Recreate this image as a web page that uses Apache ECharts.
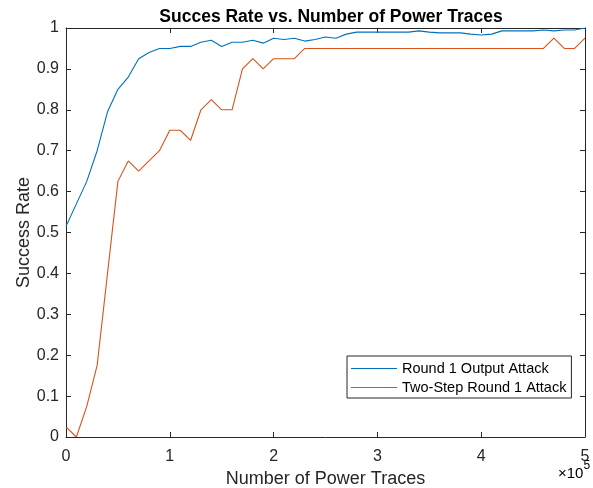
<!DOCTYPE html>
<html>
<head>
<meta charset="utf-8">
<script src="https://cdn.jsdelivr.net/npm/echarts@6/dist/echarts.min.js"></script>
<style>html,body{margin:0;padding:0;background:#fff}#c{width:593px;height:488px}</style>
</head>
<body>
<div id="c"></div>
<script>
const traces = [0,10000,20000,30000,40000,50000,60000,70000,80000,90000,
  100000,110000,120000,130000,140000,150000,160000,170000,180000,190000,
  200000,210000,220000,230000,240000,250000,260000,270000,280000,290000,
  300000,310000,320000,330000,340000,350000,360000,370000,380000,390000,
  400000,410000,420000,430000,440000,450000,460000,470000,480000,490000,500000];
const round1Output = [0.515,0.57,0.625,0.70,0.795,0.85,0.88,0.925,0.94,0.95,
  0.95,0.955,0.955,0.965,0.97,0.955,0.965,0.965,0.97,0.963,
  0.975,0.972,0.975,0.968,0.972,0.978,0.975,0.985,0.99,0.99,
  0.99,0.99,0.99,0.99,0.993,0.99,0.988,0.988,0.988,0.985,
  0.983,0.985,0.993,0.993,0.993,0.993,0.995,0.993,0.995,0.995,1.0];
const twoStep = [0.025,0,0.075,0.175,0.4,0.625,0.675,0.65,0.675,0.70,
  0.75,0.75,0.725,0.80,0.825,0.80,0.80,0.90,0.925,0.90,
  0.925,0.925,0.925,0.95,0.95,0.95,0.95,0.95,0.95,0.95,
  0.95,0.95,0.95,0.95,0.95,0.95,0.95,0.95,0.95,0.95,
  0.95,0.95,0.95,0.95,0.95,0.95,0.95,0.975,0.95,0.95,0.975];
const seriesNames = ['Round 1 Output Attack','Two-Step Round 1 Attack'];
const titleText = 'Succes Rate vs. Number of Power Traces';
const xLabel = 'Number of Power Traces';
const yLabel = 'Success Rate';

const FONT = '"Liberation Sans", Arial, Helvetica, sans-serif';
const AX = '#262626';
const chart = echarts.init(document.getElementById('c'), null, {renderer:'canvas'});
const axisCommon = {
  axisLine:{show:true, onZero:false, lineStyle:{color:AX, width:1}},
  axisTick:{show:true, inside:true, length:5, lineStyle:{color:AX, width:1}},
  splitLine:{show:false}
};
chart.setOption({
  animation:false,
  backgroundColor:'#fff',
  title:{text:titleText, left:326, top:3, textAlign:'center',
    textStyle:{fontFamily:FONT, fontSize:17.5, fontWeight:'bold', color:'#000'}},
  grid:{left:66, right:8, top:28, bottom:51, containLabel:false, outerBoundsMode:'none'},
  xAxis:[
    Object.assign({type:'value', min:0, max:500000, interval:100000, position:'bottom',
      name:xLabel, nameLocation:'middle', nameGap:33, nameMoveOverlap:false,
      nameTextStyle:{fontFamily:FONT, fontSize:18, color:AX},
      axisLabel:{fontFamily:FONT, fontSize:16, color:AX, margin:12, formatter:v=>String(v/100000)}}, axisCommon),
    Object.assign({type:'value', min:0, max:500000, interval:100000, position:'top',
      axisLabel:{show:false}}, axisCommon)
  ],
  yAxis:[
    Object.assign({type:'value', min:0, max:1, interval:0.1, position:'left',
      name:yLabel, nameLocation:'middle', nameGap:33, nameMoveOverlap:false,
      nameTextStyle:{fontFamily:FONT, fontSize:18, color:AX},
      axisLabel:{fontFamily:FONT, fontSize:16, color:AX, margin:7, formatter:v=>String(+v.toFixed(1))}}, axisCommon),
    Object.assign({type:'value', min:0, max:1, interval:0.1, position:'right',
      axisLabel:{show:false}}, axisCommon)
  ],
  legend:{orient:'vertical', left:347, top:356, itemWidth:46, itemHeight:1, itemGap:2,
    icon:'rect',
    padding:[4,5,2,4], borderColor:AX, borderWidth:1, backgroundColor:'#fff',
    textStyle:{fontFamily:FONT, fontSize:14.5, lineHeight:17, color:'#000'},
    data:seriesNames},
  graphic:[{type:'text', left:558, top:460, style:{
    text:'{a|×10}{b|5}', rich:{a:{fontFamily:FONT, fontSize:15, color:AX, padding:[6,0,0,0]}, b:{fontFamily:FONT, fontSize:12, color:AX, verticalAlign:'top'}}}}],
  series:[
    {name:seriesNames[0], type:'line', symbol:'none', color:'#0072BD',
      lineStyle:{width:1.1, color:'#0072BD'}, data:traces.map((t,i)=>[t, round1Output[i]])},
    {name:seriesNames[1], type:'line', symbol:'none', color:'#D95319',
      lineStyle:{width:1.1, color:'#D95319'}, data:traces.map((t,i)=>[t, twoStep[i]])}
  ]
});
</script>
</body>
</html>
